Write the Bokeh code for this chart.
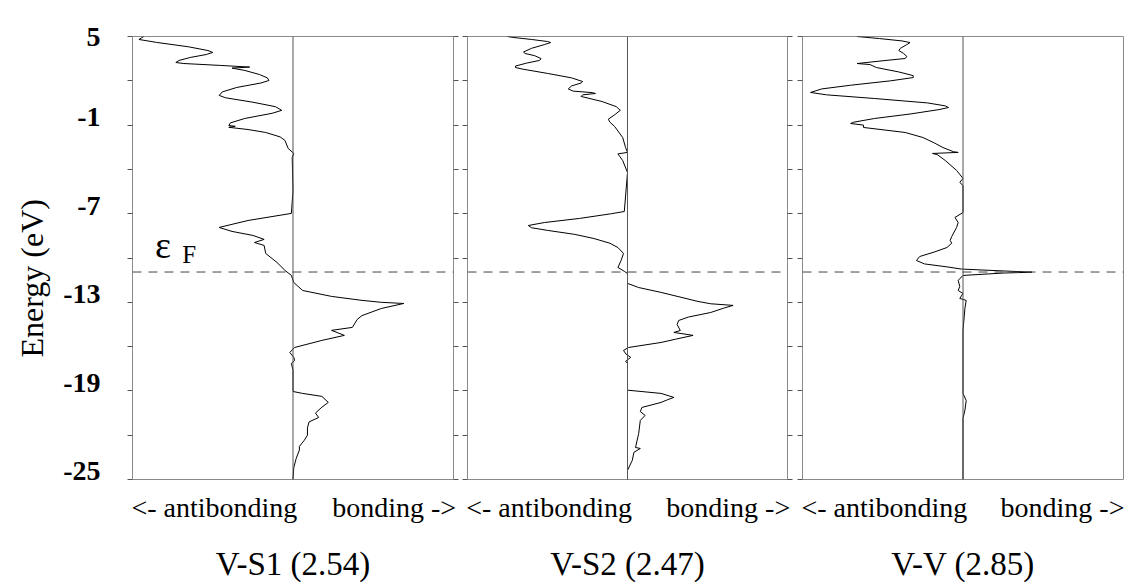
from bokeh.plotting import figure
from bokeh.layouts import row
from bokeh.models import Range1d, FixedTicker, LinearAxis, Span, Label
from bokeh.embed import file_html
from bokeh.resources import INLINE

# ---------------- data (energy in eV, COOP in arbitrary units) ----------------
energy_vs1 = [5.00, 4.80, 4.60, 4.30, 4.05, 3.92, 3.78, 3.58, 3.38, 3.24, 3.17, 3.04, 2.93, 2.86,
              2.70, 2.43, 2.20, 2.02, 1.85, 1.55, 1.25, 1.01, 0.85, 0.55, 0.25, 0.00, -0.20,
              -0.55, -0.85, -1.03, -1.08, -1.15, -1.30, -1.50, -1.80, -2.04, -2.58, -2.92,
              -3.19, -5.43, -6.98, -7.46, -7.93, -8.20, -8.47, -8.74, -8.95, -9.15, -9.69,
              -10.30, -10.84, -11.18, -11.66, -12.20, -12.60, -12.87, -13.00, -13.08, -13.42,
              -13.90, -14.16, -14.70, -14.90, -15.24, -15.58, -16.06, -16.40, -16.73, -16.94,
              -17.14, -17.60, -19.04, -19.17, -19.37, -19.78, -20.10, -20.50, -20.80, -21.10,
              -21.50, -22.00, -22.35, -22.76, -23.00, -23.57, -24.18, -25.00]
coop_vs1 = [-0.93, -0.96, -0.85, -0.65, -0.53, -0.50, -0.54, -0.64, -0.71, -0.73, -0.68, -0.45,
            -0.27, -0.38, -0.30, -0.21, -0.16, -0.15, -0.20, -0.35, -0.44, -0.46, -0.42, -0.25,
            -0.11, -0.07, -0.13, -0.30, -0.39, -0.40, -0.36, -0.40, -0.28, -0.17, -0.08, -0.05,
            -0.03, 0.005, -0.005, 0.0, -0.01, -0.28, -0.46, -0.38, -0.25, -0.18, -0.24, -0.18,
            -0.17, -0.10, -0.05, -0.01, 0.005, 0.06, 0.24, 0.43, 0.55, 0.69, 0.55, 0.43, 0.40,
            0.37, 0.24, 0.32, 0.18, 0.01, -0.02, 0.005, 0.01, -0.01, 0.0, 0.0, 0.06, 0.18, 0.22,
            0.18, 0.14, 0.16, 0.10, 0.09, 0.09, 0.07, 0.04, 0.04, 0.02, 0.005, 0.0]

energy_vs2 = [5.00, 4.93, 4.80, 4.66, 4.59, 4.45, 4.20, 3.95, 3.85, 3.70, 3.50, 3.38, 3.20, 3.00,
              2.90, 2.80, 2.50, 2.20, 1.95, 1.85, 1.65, 1.45, 1.30, 1.20, 1.14, 1.05, 0.94, 0.60,
              0.25, 0.00, -0.30, -0.60, -0.80, -1.10, -1.84, -2.52, -2.85, -2.95, -3.10, -3.40,
              -4.21, -6.85, -7.00, -7.32, -7.60, -7.80, -7.95, -8.13, -8.40, -8.68, -9.00, -9.29,
              -9.69, -10.17, -10.64, -10.90, -11.05, -11.72, -12.00, -12.33, -12.94, -13.10,
              -13.21, -13.40, -13.69, -14.00, -14.23, -14.50, -14.91, -15.04, -15.24, -15.50,
              -15.72, -16.06, -16.26, -16.50, -16.73, -17.00, -17.14, -18.95, -19.17, -19.44,
              -19.60, -19.78, -20.12, -20.40, -20.66, -21.00, -21.88, -22.83, -22.90, -23.16,
              -23.70, -24.38, -25.00]
coop_vs2 = [-0.75, -0.71, -0.60, -0.50, -0.48, -0.52, -0.60, -0.65, -0.64, -0.58, -0.54, -0.55,
            -0.63, -0.70, -0.70, -0.66, -0.50, -0.35, -0.28, -0.29, -0.35, -0.37, -0.34, -0.22,
            -0.20, -0.28, -0.29, -0.16, -0.07, -0.045, -0.08, -0.12, -0.11, -0.08, -0.03, -0.012,
            0.0, -0.06, -0.05, -0.03, 0.0, -0.02, -0.10, -0.30, -0.52, -0.62, -0.60, -0.50, -0.33,
            -0.21, -0.11, -0.06, -0.025, -0.04, -0.06, -0.02, 0.0, 0.0, 0.07, 0.21, 0.44, 0.52,
            0.66, 0.60, 0.52, 0.38, 0.32, 0.31, 0.33, 0.29, 0.41, 0.30, 0.21, 0.006, -0.025,
            -0.01, 0.02, -0.012, 0.0, 0.0, 0.21, 0.29, 0.25, 0.21, 0.09, 0.08, 0.11, 0.08, 0.07,
            0.05, 0.08, 0.04, 0.03, 0.0, 0.0]

energy_vv = [5.00, 4.86, 4.70, 4.59, 4.45, 4.20, 4.05, 3.85, 3.65, 3.51, 3.38, 3.17, 3.10, 2.90,
             2.60, 2.35, 2.22, 2.00, 1.70, 1.45, 1.21, 1.05, 0.80, 0.50, 0.30, 0.19, 0.05, -0.25,
             -0.55, -0.80, -0.89, -1.00, -1.16, -1.50, -1.84, -2.20, -2.52, -2.80, -2.85, -2.92,
             -3.00, -3.40, -4.07, -4.61, -4.88, -5.09, -6.92, -7.25, -7.60, -7.93, -8.54, -8.81,
             -9.00, -9.29, -9.60, -9.90, -10.17, -10.40, -10.60, -10.75, -10.90, -10.96, -11.02,
             -11.18, -11.52, -11.93, -12.20, -12.40, -12.74, -12.87, -13.40, -14.90, -19.17,
             -19.65, -20.30, -20.86, -25.00]
coop_vv = [-0.66, -0.52, -0.38, -0.33, -0.35, -0.39, -0.40, -0.37, -0.35, -0.36, -0.48, -0.66,
           -0.58, -0.54, -0.40, -0.31, -0.31, -0.45, -0.70, -0.88, -0.95, -0.85, -0.55, -0.22,
           -0.11, -0.09, -0.15, -0.33, -0.55, -0.68, -0.70, -0.62, -0.62, -0.36, -0.25, -0.18,
           -0.125, -0.06, -0.03, -0.19, -0.16, -0.11, -0.04, 0.0, -0.02, 0.0, 0.0, -0.05, -0.03,
           -0.04, -0.07, -0.08, -0.07, -0.10, -0.18, -0.27, -0.29, -0.24, -0.10, -0.01, 0.30,
           0.43, 0.25, 0.0, -0.03, -0.02, -0.03, 0.0, -0.02, 0.02, 0.012, 0.0, 0.0, 0.02, 0.012,
           0.0, 0.0]

panel_titles = ["V-S1 (2.54)", "V-S2 (2.47)", "V-V (2.85)"]
side_labels = ["<- antibonding", "bonding ->"]
side_label_pos = [-0.49, 0.63]
y_major_ticks = [5, -1, -7, -13, -19, -25]
y_tick_labels = ["5", "-1", "-7", "-13", "-19", "-25"]
y_minor_ticks = [2, -4, -10, -16, -22]
fermi_level = -10.95
y_axis_title = "Energy (eV)"
fermi_label = "\u03b5"
fermi_sub = "F"

SERIF = "Liberation Serif"
FRAME_GRAY = "#8a8a8a"
LABEL_RAISE = 0.55   # tick labels sit slightly above their ticks in the original


def tick_axis():
    ax = LinearAxis(ticker=FixedTicker(ticks=y_major_ticks, minor_ticks=y_minor_ticks))
    ax.axis_line_color = FRAME_GRAY
    ax.major_tick_line_color = "#555555"
    ax.minor_tick_line_color = "#555555"
    ax.major_tick_out = 5
    ax.major_tick_in = 0
    ax.minor_tick_out = 5
    ax.minor_tick_in = 0
    ax.major_label_text_font_size = "1px"
    ax.major_label_text_color = None
    ax.major_label_standoff = 0
    return ax


def make_panel(energy, coop, title, width, lb, rb, first=False, right_ticks=True):
    kw = {}
    if first:
        kw = dict(title=y_axis_title, title_location="left")
    p = figure(width=width, height=584, x_range=Range1d(-1, 1), y_range=Range1d(-25, 5),
               output_backend="svg", toolbar_location=None,
               min_border_left=lb, min_border_right=rb, min_border_top=36, min_border_bottom=105,
               x_axis_location=None, y_axis_location=None, **kw)
    p.grid.visible = False
    p.outline_line_color = FRAME_GRAY
    p.outline_line_width = 1
    p.background_fill_color = "white"
    p.border_fill_color = "white"

    p.add_layout(tick_axis(), "left")
    if right_ticks:
        p.add_layout(tick_axis(), "right")

    if first:
        p.title.text_font = SERIF
        p.title.text_font_size = "32px"
        p.title.text_font_style = "normal"
        p.title.text_color = "black"
        p.title.align = "left"
        p.title.offset = 122
        p.title.standoff = 22

        pos = [min(t + LABEL_RAISE, 5) for t in y_major_ticks]
        la = LinearAxis(ticker=FixedTicker(ticks=pos, minor_ticks=[]))
        la.major_label_overrides = dict(zip(pos, y_tick_labels))
        la.axis_line_color = None
        la.major_tick_line_color = None
        la.minor_tick_line_color = None
        la.major_tick_out = 0
        la.major_tick_in = 0
        la.major_label_text_font = SERIF
        la.major_label_text_font_size = "28px"
        la.major_label_text_font_style = "bold"
        la.major_label_text_color = "black"
        la.major_label_standoff = 27
        p.add_layout(la, "left")

    xb = LinearAxis(ticker=FixedTicker(ticks=side_label_pos))
    xb.major_label_overrides = {side_label_pos[0]: side_labels[0], side_label_pos[1]: side_labels[1]}
    xb.axis_line_color = None
    xb.major_tick_line_color = None
    xb.minor_tick_line_color = None
    xb.major_tick_out = 0
    xb.major_tick_in = 0
    xb.major_label_standoff = 12
    xb.major_label_text_font = SERIF
    xb.major_label_text_font_size = "28px"
    xb.major_label_text_color = "black"
    xb.axis_label = title
    xb.axis_label_text_font = SERIF
    xb.axis_label_text_font_size = "33px"
    xb.axis_label_text_font_style = "normal"
    xb.axis_label_text_color = "black"
    xb.axis_label_standoff = 20
    p.add_layout(xb, "below")

    p.add_layout(Span(location=0, dimension="height", line_color="#555555", line_width=1))
    p.add_layout(Span(location=fermi_level, dimension="width", line_color="#444444",
                      line_width=1, line_dash="9 7"))
    p.line(coop, energy, line_color="black", line_width=1)
    return p


p1 = make_panel(energy_vs1, coop_vs1, panel_titles[0], 459, 130, 6, first=True)
p2 = make_panel(energy_vs2, coop_vs2, panel_titles[1], 336, 8, 8)
p3 = make_panel(energy_vv, coop_vv, panel_titles[2], 329, 7, 1, right_ticks=False)

p1.add_layout(Label(x=-0.86, y=-9.15, text=fermi_label, text_align="left",
                    text_baseline="alphabetic", text_font=SERIF, text_font_size="38px",
                    text_color="black"))
p1.add_layout(Label(x=-0.69, y=-9.75, text=fermi_sub, text_align="left",
                    text_baseline="alphabetic", text_font=SERIF, text_font_size="25px",
                    text_color="black"))

layout = row(p1, p2, p3)
open("out.html", "w").write(file_html(layout, INLINE))
